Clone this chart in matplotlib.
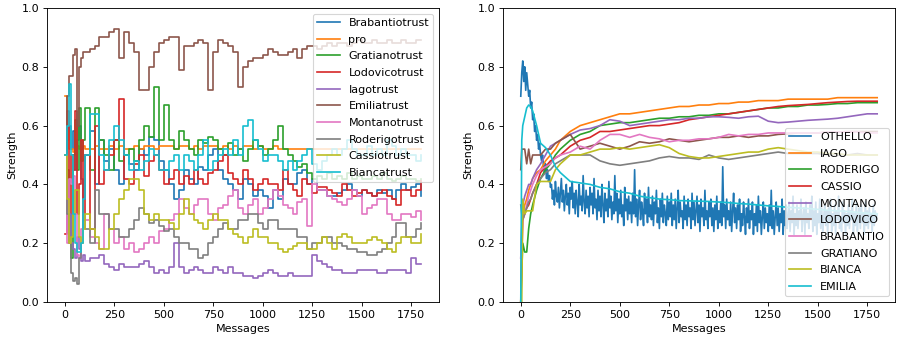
import matplotlib
matplotlib.use('Agg')
import matplotlib.pyplot as plt

# ---------------------------------------------------------------- left: trust
LEFT_MSG = [0, 10, 20, 30, 40, 50, 60, 70, 80, 90, 100] + list(range(125, 1801, 25))

brabantio_trust = [0.50, 0.55, 0.60, 0.52, 0.58, 0.45, 0.55, 0.60, 0.42, 0.35, 0.50,
                   0.58, 0.40, 0.55, 0.48, 0.52, 0.45, 0.40, 0.50,
                   0.47, 0.45, 0.52, 0.50, 0.56, 0.55, 0.48, 0.45,
                   0.40, 0.35, 0.38, 0.45, 0.42, 0.40, 0.46, 0.45,
                   0.50, 0.52, 0.45, 0.42, 0.40, 0.38, 0.35, 0.42,
                   0.40, 0.36, 0.38, 0.36, 0.32, 0.38, 0.35, 0.42,
                   0.40, 0.40, 0.44, 0.45, 0.40, 0.42, 0.38, 0.38,
                   0.36, 0.36, 0.37, 0.38, 0.40, 0.38, 0.36, 0.38,
                   0.37, 0.36, 0.38, 0.37, 0.38, 0.35, 0.38, 0.40,
                   0.38, 0.39, 0.40, 0.36]
pro = [0.70, 0.58, 0.52, 0.52, 0.51, 0.52, 0.53, 0.52, 0.52, 0.53, 0.52,
       0.52, 0.53, 0.52, 0.52, 0.53, 0.52, 0.53, 0.52,
       0.52, 0.53, 0.52, 0.53, 0.53, 0.52, 0.53, 0.53,
       0.53, 0.52, 0.53, 0.53, 0.52, 0.53, 0.52, 0.53,
       0.53, 0.53, 0.52, 0.53, 0.52, 0.53, 0.52, 0.53,
       0.53, 0.52, 0.53, 0.52, 0.52, 0.53, 0.52, 0.52,
       0.52, 0.52, 0.52, 0.52, 0.52, 0.52, 0.52, 0.52,
       0.52, 0.52, 0.52, 0.52, 0.52, 0.52, 0.52, 0.52,
       0.52, 0.52, 0.52, 0.52, 0.52, 0.52, 0.52, 0.52,
       0.52, 0.52, 0.52, 0.52]
gratiano_trust = [0.50, 0.45, 0.30, 0.15, 0.50, 0.62, 0.45, 0.66, 0.48, 0.55, 0.66,
                  0.45, 0.66, 0.55, 0.50, 0.45, 0.55, 0.48, 0.50,
                  0.52, 0.48, 0.55, 0.60, 0.56, 0.73, 0.55, 0.67,
                  0.55, 0.52, 0.58, 0.55, 0.52, 0.50, 0.55, 0.54,
                  0.56, 0.55, 0.52, 0.50, 0.54, 0.50, 0.52, 0.48,
                  0.52, 0.55, 0.53, 0.50, 0.52, 0.55, 0.60, 0.52,
                  0.50, 0.48, 0.46, 0.47, 0.44, 0.42, 0.43, 0.42,
                  0.44, 0.42, 0.43, 0.42, 0.44, 0.42, 0.43, 0.42,
                  0.42, 0.43, 0.42, 0.44, 0.42, 0.41, 0.42, 0.43,
                  0.42, 0.42, 0.41, 0.42]
lodovico_trust = [0.23, 0.65, 0.30, 0.50, 0.45, 0.65, 0.30, 0.40, 0.55, 0.28, 0.50,
                  0.25, 0.60, 0.40, 0.45, 0.50, 0.55, 0.69, 0.42,
                  0.40, 0.47, 0.50, 0.43, 0.48, 0.50, 0.45, 0.40,
                  0.42, 0.45, 0.40, 0.43, 0.40, 0.45, 0.42, 0.40,
                  0.44, 0.45, 0.48, 0.50, 0.44, 0.42, 0.40, 0.45,
                  0.42, 0.38, 0.40, 0.42, 0.40, 0.40, 0.38, 0.45,
                  0.40, 0.38, 0.36, 0.42, 0.40, 0.37, 0.39, 0.39,
                  0.38, 0.37, 0.36, 0.40, 0.38, 0.36, 0.37, 0.38,
                  0.37, 0.36, 0.37, 0.38, 0.36, 0.35, 0.33, 0.38,
                  0.38, 0.36, 0.38, 0.41]
iago_trust = [0.50, 0.25, 0.30, 0.20, 0.18, 0.15, 0.22, 0.18, 0.14, 0.16, 0.14,
              0.15, 0.15, 0.16, 0.13, 0.12, 0.11, 0.13, 0.12,
              0.12, 0.12, 0.13, 0.14, 0.12, 0.10, 0.11, 0.10,
              0.12, 0.20, 0.12, 0.10, 0.11, 0.12, 0.11, 0.10,
              0.10, 0.12, 0.11, 0.10, 0.12, 0.10, 0.10, 0.09,
              0.09, 0.08, 0.09, 0.10, 0.11, 0.10, 0.09, 0.09,
              0.10, 0.09, 0.09, 0.09, 0.09, 0.16, 0.14, 0.13,
              0.12, 0.11, 0.11, 0.10, 0.10, 0.10, 0.11, 0.11,
              0.11, 0.11, 0.10, 0.10, 0.11, 0.11, 0.11, 0.11,
              0.10, 0.15, 0.13, 0.13]
emilia_trust = [0.50, 0.70, 0.77, 0.77, 0.84, 0.86, 0.60, 0.80, 0.83, 0.85, 0.85,
                0.86, 0.87, 0.90, 0.90, 0.92, 0.93, 0.83, 0.92,
                0.88, 0.85, 0.72, 0.72, 0.80, 0.85, 0.88, 0.89,
                0.90, 0.90, 0.79, 0.87, 0.87, 0.88, 0.89, 0.88,
                0.72, 0.85, 0.89, 0.88, 0.87, 0.85, 0.73, 0.80,
                0.82, 0.83, 0.83, 0.84, 0.86, 0.85, 0.84, 0.84,
                0.85, 0.86, 0.83, 0.86, 0.87, 0.87, 0.86, 0.87,
                0.88, 0.87, 0.88, 0.88, 0.87, 0.88, 0.89, 0.88,
                0.88, 0.89, 0.88, 0.88, 0.89, 0.88, 0.88, 0.89,
                0.88, 0.88, 0.89, 0.89]
montano_trust = [0.50, 0.20, 0.42, 0.40, 0.43, 0.30, 0.16, 0.15, 0.25, 0.30, 0.28,
                 0.22, 0.20, 0.18, 0.30, 0.25, 0.20, 0.22, 0.18,
                 0.20, 0.17, 0.18, 0.20, 0.22, 0.20, 0.24, 0.25,
                 0.28, 0.30, 0.35, 0.32, 0.30, 0.33, 0.35, 0.35,
                 0.30, 0.28, 0.32, 0.33, 0.36, 0.38, 0.32, 0.30,
                 0.33, 0.35, 0.30, 0.32, 0.35, 0.38, 0.36, 0.33,
                 0.32, 0.30, 0.34, 0.35, 0.26, 0.40, 0.38, 0.38,
                 0.36, 0.35, 0.34, 0.33, 0.35, 0.38, 0.36, 0.30,
                 0.32, 0.33, 0.35, 0.35, 0.30, 0.28, 0.28, 0.30,
                 0.30, 0.29, 0.31, 0.28]
roderigo_trust = [0.50, 0.30, 0.20, 0.10, 0.07, 0.08, 0.06, 0.15, 0.20, 0.30, 0.25,
                  0.20, 0.38, 0.30, 0.30, 0.25, 0.25, 0.22, 0.22,
                  0.25, 0.28, 0.32, 0.30, 0.27, 0.28, 0.26, 0.24,
                  0.25, 0.22, 0.20, 0.20, 0.18, 0.18, 0.15, 0.16,
                  0.20, 0.22, 0.25, 0.27, 0.25, 0.25, 0.28, 0.28,
                  0.30, 0.30, 0.27, 0.25, 0.28, 0.28, 0.25, 0.25,
                  0.25, 0.25, 0.22, 0.22, 0.18, 0.20, 0.20, 0.22,
                  0.22, 0.20, 0.20, 0.19, 0.18, 0.18, 0.17, 0.17,
                  0.16, 0.16, 0.17, 0.18, 0.20, 0.22, 0.27, 0.27,
                  0.22, 0.22, 0.25, 0.27]
cassio_trust = [0.50, 0.35, 0.20, 0.22, 0.30, 0.38, 0.38, 0.22, 0.20, 0.25, 0.30,
                0.25, 0.22, 0.18, 0.18, 0.25, 0.30, 0.35, 0.38,
                0.42, 0.42, 0.38, 0.30, 0.28, 0.30, 0.28, 0.28,
                0.27, 0.25, 0.30, 0.35, 0.30, 0.28, 0.27, 0.25,
                0.28, 0.30, 0.28, 0.28, 0.25, 0.23, 0.22, 0.20,
                0.22, 0.25, 0.22, 0.22, 0.20, 0.20, 0.18, 0.17,
                0.18, 0.19, 0.20, 0.20, 0.18, 0.18, 0.20, 0.22,
                0.20, 0.18, 0.22, 0.23, 0.22, 0.20, 0.20, 0.20,
                0.21, 0.22, 0.21, 0.20, 0.18, 0.17, 0.20, 0.22,
                0.22, 0.20, 0.20, 0.23]
bianca_trust = [0.50, 0.60, 0.74, 0.50, 0.30, 0.20, 0.17, 0.17, 0.20, 0.35, 0.50,
                0.64, 0.64, 0.50, 0.45, 0.55, 0.60, 0.55, 0.50,
                0.45, 0.48, 0.45, 0.48, 0.52, 0.50, 0.45, 0.45,
                0.48, 0.50, 0.45, 0.50, 0.48, 0.45, 0.50, 0.55,
                0.45, 0.48, 0.50, 0.52, 0.50, 0.55, 0.50, 0.60,
                0.62, 0.55, 0.52, 0.48, 0.50, 0.50, 0.48, 0.45,
                0.48, 0.45, 0.48, 0.50, 0.52, 0.47, 0.45, 0.48,
                0.50, 0.52, 0.50, 0.52, 0.55, 0.52, 0.50, 0.50,
                0.53, 0.50, 0.52, 0.50, 0.55, 0.53, 0.50, 0.52,
                0.50, 0.50, 0.48, 0.50]

LEFT_NAMES = ['Brabantiotrust', 'pro', 'Gratianotrust', 'Lodovicotrust', 'Iagotrust',
              'Emiliatrust', 'Montanotrust', 'Roderigotrust', 'Cassiotrust', 'Biancatrust']
LEFT_SERIES = [brabantio_trust, pro, gratiano_trust, lodovico_trust, iago_trust,
               emilia_trust, montano_trust, roderigo_trust, cassio_trust, bianca_trust]

# ------------------------------------------------------------- right: people
RIGHT_MSG = [0, 5, 10, 20, 30, 40, 50, 60, 80, 100, 125, 150, 175, 200] + list(range(250, 1801, 50))

iago = [0.0, 0.25, 0.30, 0.33, 0.35, 0.38, 0.40, 0.42, 0.44, 0.45, 0.48, 0.50, 0.52, 0.55,
        0.58, 0.60, 0.61, 0.62, 0.63, 0.64, 0.64, 0.645,
        0.65, 0.655, 0.66, 0.665, 0.665, 0.67, 0.67, 0.675,
        0.675, 0.68, 0.68, 0.685, 0.685, 0.685, 0.69, 0.69,
        0.69, 0.69, 0.69, 0.695, 0.695, 0.695, 0.695, 0.695]
roderigo = [0.0, 0.10, 0.20, 0.17, 0.17, 0.25, 0.30, 0.33, 0.38, 0.42, 0.45, 0.47, 0.50, 0.52,
            0.55, 0.57, 0.58, 0.60, 0.605, 0.61, 0.61, 0.615,
            0.62, 0.625, 0.625, 0.63, 0.63, 0.635, 0.635, 0.64,
            0.64, 0.645, 0.65, 0.655, 0.66, 0.66, 0.665, 0.665,
            0.67, 0.67, 0.672, 0.675, 0.675, 0.678, 0.678, 0.678]
cassio = [0.0, 0.15, 0.28, 0.30, 0.32, 0.33, 0.35, 0.37, 0.40, 0.44, 0.46, 0.48, 0.49, 0.50,
          0.53, 0.55, 0.56, 0.58, 0.58, 0.585, 0.59, 0.595,
          0.60, 0.60, 0.605, 0.61, 0.62, 0.625, 0.63, 0.635,
          0.64, 0.645, 0.65, 0.655, 0.66, 0.665, 0.668, 0.67,
          0.672, 0.675, 0.678, 0.68, 0.682, 0.683, 0.683, 0.683]
montano = [0.15, 0.25, 0.33, 0.36, 0.38, 0.40, 0.40, 0.42, 0.45, 0.47, 0.50, 0.53, 0.54, 0.55,
           0.57, 0.585, 0.59, 0.60, 0.62, 0.615, 0.60, 0.605,
           0.61, 0.615, 0.62, 0.62, 0.625, 0.625, 0.63, 0.63,
           0.628, 0.625, 0.63, 0.632, 0.615, 0.61, 0.612, 0.615,
           0.618, 0.62, 0.622, 0.625, 0.63, 0.635, 0.64, 0.64]
lodovico = [0.45, 0.52, 0.52, 0.52, 0.47, 0.52, 0.47, 0.50, 0.50, 0.50, 0.52, 0.52, 0.54, 0.55,
            0.57, 0.52, 0.53, 0.54, 0.53, 0.52, 0.53, 0.545,
            0.54, 0.545, 0.555, 0.55, 0.545, 0.55, 0.555, 0.56,
            0.56, 0.565, 0.56, 0.565, 0.565, 0.57, 0.572, 0.575,
            0.575, 0.575, 0.578, 0.578, 0.58, 0.58, 0.58, 0.58]
brabantio = [0.15, 0.22, 0.28, 0.30, 0.33, 0.36, 0.38, 0.40, 0.43, 0.45, 0.46, 0.47, 0.49, 0.50,
             0.51, 0.53, 0.52, 0.55, 0.57, 0.57, 0.56, 0.57,
             0.56, 0.555, 0.545, 0.55, 0.55, 0.555, 0.555, 0.56,
             0.57, 0.565, 0.57, 0.57, 0.575, 0.575, 0.575, 0.575,
             0.575, 0.575, 0.578, 0.578, 0.578, 0.578, 0.575, 0.575]
gratiano = [0.33, 0.30, 0.28, 0.30, 0.32, 0.34, 0.35, 0.37, 0.40, 0.42, 0.44, 0.45, 0.47, 0.48,
            0.50, 0.50, 0.50, 0.48, 0.47, 0.465, 0.47, 0.475,
            0.48, 0.49, 0.495, 0.49, 0.49, 0.485, 0.50, 0.49,
            0.485, 0.49, 0.495, 0.50, 0.505, 0.51, 0.505, 0.505,
            0.505, 0.505, 0.50, 0.50, 0.50, 0.505, 0.50, 0.50]
bianca = [0.0, 0.0, 0.35, 0.30, 0.31, 0.31, 0.31, 0.31, 0.40, 0.41, 0.41, 0.41, 0.45, 0.47,
          0.50, 0.50, 0.51, 0.52, 0.52, 0.525, 0.52, 0.525,
          0.53, 0.535, 0.525, 0.505, 0.495, 0.49, 0.49, 0.495,
          0.50, 0.505, 0.51, 0.51, 0.52, 0.525, 0.52, 0.515,
          0.51, 0.51, 0.505, 0.505, 0.50, 0.50, 0.50, 0.50]
emilia = [0.0, 0.55, 0.60, 0.63, 0.66, 0.67, 0.665, 0.65, 0.60, 0.54, 0.525, 0.50, 0.46, 0.44,
          0.41, 0.405, 0.40, 0.39, 0.385, 0.375, 0.37, 0.36,
          0.355, 0.35, 0.348, 0.345, 0.344, 0.343, 0.342, 0.34,
          0.338, 0.335, 0.333, 0.33, 0.327, 0.325, 0.322, 0.32,
          0.318, 0.315, 0.312, 0.31, 0.308, 0.305, 0.302, 0.30]

OTHELLO_MSG = list(range(0, 1801, 5))
othello = [0.70, 0.78, 0.82, 0.75, 0.80, 0.72, 0.78,
           0.74, 0.70, 0.72, 0.66, 0.68, 0.62, 0.64, 0.58, 0.60, 0.55, 0.57, 0.52,
           0.54, 0.50, 0.48, 0.50, 0.46, 0.44, 0.47, 0.42, 0.45, 0.41, 0.43, 0.39,
           # 155 .. 250
           0.40, 0.35, 0.38, 0.33, 0.41, 0.36, 0.34, 0.39, 0.32, 0.37, 0.42, 0.34, 0.38, 0.31, 0.36, 0.40, 0.33, 0.37, 0.30, 0.39,
           0.35, 0.41, 0.32, 0.37, 0.30, 0.38, 0.34, 0.29, 0.40, 0.33, 0.36, 0.31, 0.43, 0.34, 0.30, 0.38, 0.32, 0.36, 0.29, 0.39,
           0.33, 0.37, 0.30, 0.42, 0.32, 0.35, 0.28, 0.38, 0.31, 0.36, 0.29, 0.40, 0.33, 0.27, 0.37, 0.31, 0.35, 0.29, 0.41, 0.32,
           0.36, 0.28, 0.34, 0.30, 0.43, 0.31, 0.37, 0.27, 0.35, 0.30, 0.38, 0.29, 0.33, 0.26, 0.39, 0.31, 0.35, 0.28, 0.36, 0.30,
           0.34, 0.27, 0.37, 0.30, 0.45, 0.29, 0.35, 0.26, 0.33, 0.38, 0.28, 0.34, 0.31, 0.26, 0.37, 0.30, 0.35, 0.27, 0.39, 0.29,
           0.33, 0.28, 0.36, 0.26, 0.34, 0.30, 0.38, 0.27, 0.32, 0.25, 0.35, 0.29, 0.37, 0.27, 0.33, 0.30, 0.26, 0.36, 0.28, 0.34,
           0.29, 0.37, 0.26, 0.33, 0.28, 0.35, 0.25, 0.32, 0.38, 0.27, 0.34, 0.29, 0.31, 0.25, 0.36, 0.28, 0.33, 0.26, 0.35, 0.29,
           0.32, 0.25, 0.37, 0.28, 0.34, 0.26, 0.31, 0.36, 0.27, 0.33, 0.24, 0.35, 0.29, 0.32, 0.26, 0.38, 0.28, 0.31, 0.25, 0.34,
           0.29, 0.35, 0.26, 0.32, 0.24, 0.33, 0.28, 0.36, 0.25, 0.31, 0.27, 0.34, 0.26, 0.46, 0.29, 0.33, 0.25, 0.35, 0.28, 0.31,
           0.26, 0.34, 0.24, 0.31, 0.37, 0.27, 0.32, 0.25, 0.33, 0.28, 0.35, 0.24, 0.30, 0.26, 0.34, 0.29, 0.23, 0.32, 0.27, 0.35,
           0.25, 0.31, 0.28, 0.34, 0.23, 0.30, 0.26, 0.33, 0.24, 0.36, 0.27, 0.31, 0.23, 0.29, 0.34, 0.25, 0.32, 0.27, 0.30, 0.24,
           0.33, 0.26, 0.38, 0.25, 0.31, 0.23, 0.29, 0.34, 0.26, 0.32, 0.24, 0.30, 0.27, 0.35, 0.23, 0.31, 0.26, 0.33, 0.25, 0.29,
           0.34, 0.24, 0.31, 0.27, 0.36, 0.23, 0.30, 0.26, 0.33, 0.25, 0.31, 0.28, 0.35, 0.24, 0.29, 0.32, 0.23, 0.34, 0.27, 0.30,
           0.25, 0.33, 0.28, 0.36, 0.24, 0.31, 0.26, 0.34, 0.23, 0.30, 0.27, 0.35, 0.25, 0.32, 0.24, 0.29, 0.33, 0.26, 0.31, 0.23,
           0.32, 0.27, 0.35, 0.24, 0.30, 0.26, 0.33, 0.23, 0.31, 0.28, 0.36, 0.25, 0.29, 0.24, 0.34, 0.27, 0.31, 0.23, 0.30, 0.26,
           0.33, 0.25, 0.31, 0.28, 0.35, 0.23, 0.30, 0.26, 0.34, 0.24, 0.29, 0.32, 0.25, 0.33, 0.27, 0.30, 0.23, 0.34, 0.26, 0.31,
           # 1755 .. 1800
           0.25, 0.32, 0.27, 0.30, 0.24, 0.33, 0.26, 0.31, 0.28, 0.30]

RIGHT_NAMES = ['IAGO', 'RODERIGO', 'CASSIO', 'MONTANO', 'LODOVICO',
               'BRABANTIO', 'GRATIANO', 'BIANCA', 'EMILIA']
RIGHT_SERIES = [iago, roderigo, cassio, montano, lodovico,
                brabantio, gratiano, bianca, emilia]

# -------------------------------------------------------------------- figure
fig, (ax1, ax2) = plt.subplots(1, 2, figsize=(897/80, 340/80), dpi=80)
plt.subplots_adjust(left=47/897, right=895/897, bottom=1-302/340, top=1-8/340, wspace=0.163)

for name, values in zip(LEFT_NAMES, LEFT_SERIES):
    ax1.plot(LEFT_MSG, values, drawstyle='steps-post', label=name)
ax1.set_ylim(0, 1.0)
ax1.set_xlabel('Messages')
ax1.set_ylabel('Strength')
ax1.legend(loc='upper right', labelspacing=0.6)

ax2.plot(OTHELLO_MSG, othello, label='OTHELLO')
for name, values in zip(RIGHT_NAMES, RIGHT_SERIES):
    ax2.plot(RIGHT_MSG, values, label=name)
ax2.set_ylim(0, 1.0)
ax2.set_xlabel('Messages')
ax2.set_ylabel('Strength')
ax2.legend(loc='lower right', labelspacing=0.6)

plt.savefig('out.png', dpi=80)
